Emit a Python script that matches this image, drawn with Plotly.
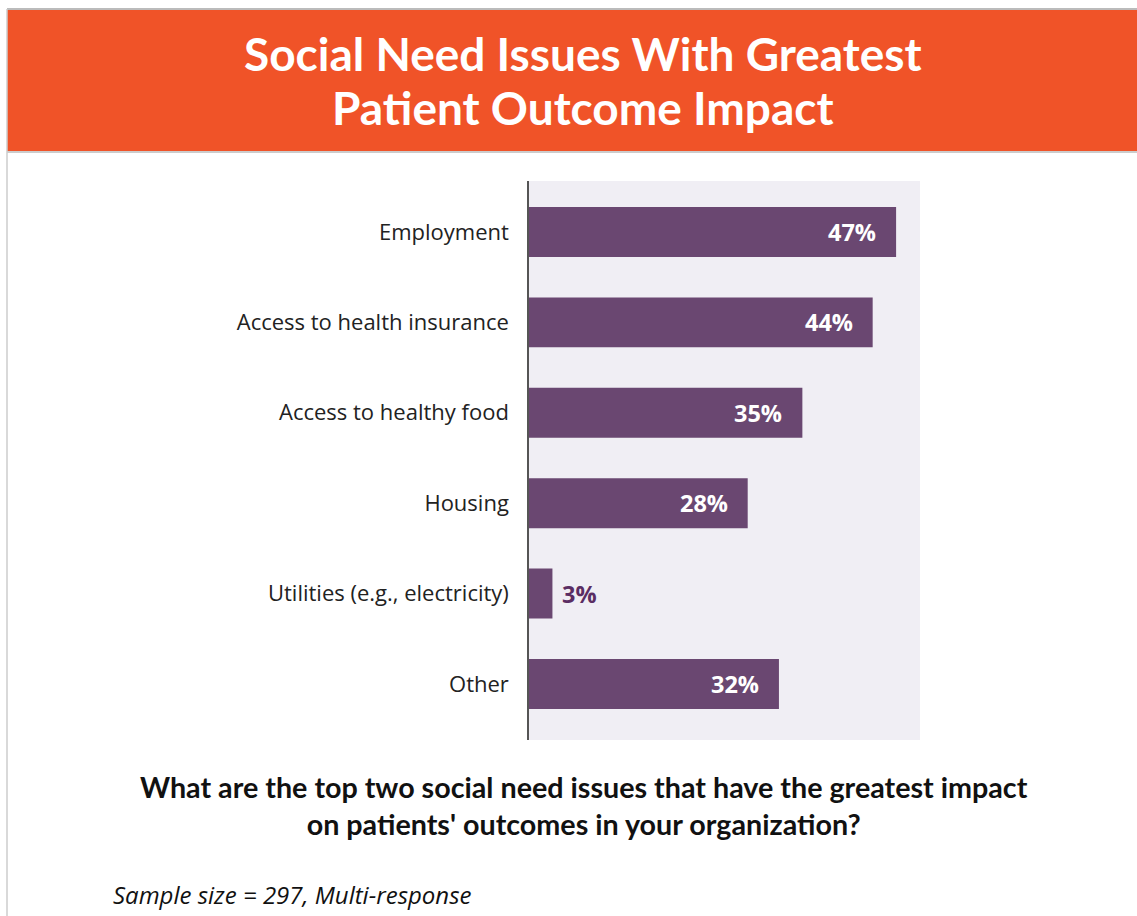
import plotly.graph_objects as go

categories = ["Employment", "Access to health insurance", "Access to healthy food",
              "Housing", "Utilities (e.g., electricity)", "Other"]
values = [47, 44, 35, 28, 3, 32]
labels = ["47%", "44%", "35%", "28%", "3%", "32%"]
title_lines = ["Social Need Issues With Greatest", "Patient Outcome Impact"]

BAR = "#6A4771"
W, H = 1137, 916
L, R, T, B = 529, 217, 181, 176
PW, PH = W - L - R, H - T - B


def px(x):
    return (x - L) / PW


def py(y):
    return (H - B - y) / PH


fig = go.Figure()
fig.add_trace(go.Bar(
    y=categories, x=values, orientation="h",
    marker=dict(color=BAR, line=dict(width=0)),
    width=0.553, hoverinfo="skip",
))

annotations = []
for c, v, lab in zip(categories, values, labels):
    if v >= 10:
        annotations.append(dict(x=v, y=c, xref="x", yref="y", text=lab, showarrow=False,
                                xanchor="right", xshift=-18,
                                font=dict(family="Open Sans", size=23.5, color="white", weight="bold")))
    else:
        annotations.append(dict(x=v, y=c, xref="x", yref="y", text=lab, showarrow=False,
                                xanchor="left", xshift=8,
                                font=dict(family="Open Sans", size=23.5, color="#5B2D63", weight="bold")))

for line, yc in zip(title_lines, [53, 107]):
    annotations.append(dict(text=line, xref="paper", yref="paper", x=px(583), y=py(yc),
                            xanchor="center", yanchor="middle", showarrow=False,
                            font=dict(family="Lato", size=46, color="white", weight="bold")))

annotations += [
    dict(text="What are the top two social need issues that have the greatest impact<br>on patients' outcomes in your organization?",
         xref="paper", yref="paper", x=px(584), y=py(805), xanchor="center", yanchor="middle",
         showarrow=False, align="center",
         font=dict(family="Lato", size=28.7, color="#111111", weight="bold")),
    dict(text="<i>Sample size = 297, Multi-response</i>",
         xref="paper", yref="paper", x=px(111), y=py(894), xanchor="left", yanchor="middle",
         showarrow=False,
         font=dict(family="Open Sans", size=24, color="#111111")),
]

fig.update_layout(
    width=W, height=H,
    margin=dict(l=L, r=R, t=T, b=B),
    paper_bgcolor="white", plot_bgcolor="#F0EEF4",
    showlegend=False,
    xaxis=dict(range=[0, 50.06], showticklabels=False, showgrid=False,
               zeroline=False, fixedrange=True),
    yaxis=dict(range=[5.62, -0.564], showgrid=False, zeroline=False,
               showline=True, linecolor="#555555", linewidth=1.5,
               ticks="", ticklabelstandoff=14,
               tickfont=dict(family="Open Sans", size=22, color="#222222")),
    shapes=[
        dict(type="rect", xref="paper", yref="paper", x0=px(7), x1=px(W), y0=py(151), y1=py(10),
             fillcolor="#F05328", line=dict(width=0), layer="below"),
        dict(type="line", xref="paper", yref="paper", x0=px(7), x1=px(W), y0=py(9), y1=py(9),
             line=dict(color="#BBBBBB", width=2)),
        dict(type="line", xref="paper", yref="paper", x0=px(7), x1=px(W), y0=py(152), y1=py(152),
             line=dict(color="#BBBBBB", width=1.5)),
        dict(type="line", xref="paper", yref="paper", x0=px(7), x1=px(7), y0=py(H), y1=py(9),
             line=dict(color="#CCCCCC", width=1.5)),
    ],
    annotations=annotations,
)

fig.write_html("out.html")
